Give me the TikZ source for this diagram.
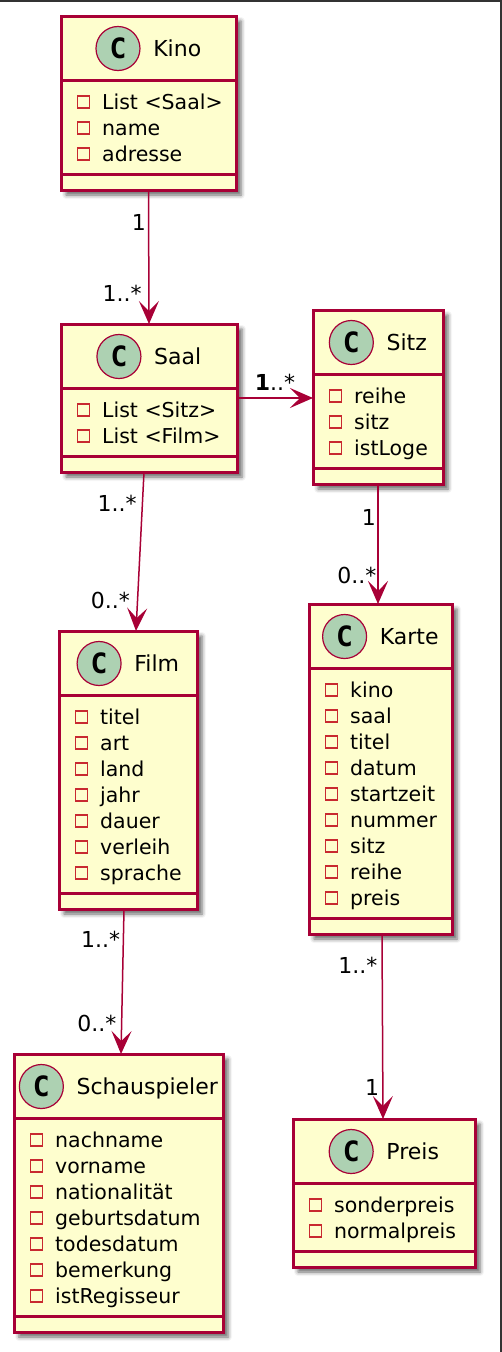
\documentclass[tikz,border=0pt]{standalone}
\usepackage{fontspec}
\setmainfont{DejaVu Sans}
\newfontfamily\iconfont{DejaVu Sans Mono}
\usetikzlibrary{arrows.meta,positioning,shadows.blur}

\definecolor{umlred}{HTML}{A80036}
\definecolor{umlfill}{HTML}{FEFECE}
\definecolor{iconfill}{HTML}{ADD1B2}
\definecolor{privred}{HTML}{C82930}
\definecolor{framegray}{HTML}{333333}

\tikzset{
  classbox/.style={draw=umlred, fill=umlfill, line width=3pt, inner sep=0pt, outer sep=0pt,
    blur shadow={shadow xshift=5pt, shadow yshift=-5pt, shadow blur radius=4pt, shadow opacity=60}},
  classsep/.style={draw=umlred, line width=3pt},
  classtitle/.style={inner sep=0pt, text height=16pt, text depth=0pt, font=\fontsize{22}{26}\selectfont},
  classicon/.style={circle, draw=umlred, fill=iconfill, line width=1.2pt, minimum size=44pt,
    inner sep=0pt, font=\iconfont\bfseries\fontsize{28}{30}\selectfont},
  fieldicon/.style={draw=privred, line width=1.3pt, minimum size=12pt, inner sep=0pt},
  fieldtext/.style={anchor=west, inner sep=0pt, text height=15pt, text depth=0pt,
    font=\fontsize{20.5}{26}\selectfont},
  mult/.style={inner sep=0pt, text height=16pt, text depth=0pt, font=\fontsize{22}{26}\selectfont},
  assoc/.style={draw=umlred, line width=1.5pt, -{Stealth[length=23pt,width=20pt,inset=10pt]}},
}

% #1 name, #2 left, #3 top, #4 width, #5 title, #6 fields
\newcommand{\umlclass}[6]{%
  \foreach \f [count=\i] in {#6}{\xdef\nfields{\i}}%
  \pgfmathsetmacro\classh{96+26*\nfields}%
  \node[classbox, minimum width=#4pt, minimum height=\classh pt, anchor=north west] (#1) at (#2,#3) {};
  \draw[classsep] (#2,#3+64.5) -- ++(#4,0);
  \draw[classsep] (#2,#3+80+26*\nfields) -- ++(#4,0);
  \node[classtitle] (#1-title) at (#2+#4/2+28.75,#3+32.5) {#5};
  \node[classicon, left=12.5pt of #1-title] (#1-icon) {C};
  \foreach \f [count=\i] in {#6}{
    \node[fieldicon] at (#2+22.5,#3+60+26*\i) {};
    \node[fieldtext] at (#2+41,#3+60+26*\i) {\f};
  }
}

\begin{document}
\begin{tikzpicture}[x=1pt,y=-1pt]
  \useasboundingbox (0,0) rectangle (502,1352);
  \draw[framegray, line width=2pt] (0,1) -- (501,1) -- (501,1352);

  \umlclass{kino}{61}{16}{175}{Kino}{List <Saal>, name, adresse}
  \umlclass{saal}{61}{324}{176}{Saal}{List <Sitz>, List <Film>}
  \umlclass{sitz}{313}{310}{130}{Sitz}{reihe, sitz, istLoge}
  \umlclass{film}{59}{631}{138}{Film}{titel, art, land, jahr, dauer, verleih, sprache}
  \umlclass{karte}{309}{604}{143}{Karte}{kino, saal, titel, datum, startzeit, nummer, sitz, reihe, preis}
  \umlclass{schau}{14}{1054}{209}{Schauspieler}{nachname, vorname, nationalität, geburtsdatum, todesdatum, bemerkung, istRegisseur}
  \umlclass{preis}{293}{1119}{182}{Preis}{sonderpreis, normalpreis}

  \draw[assoc] (kino.south) -- (saal.north)
    node[mult, pos=0.24, anchor=east, xshift=-2pt] {1}
    node[mult, pos=0.77, anchor=east, xshift=-6.5pt] {1..*};
  \draw[assoc] (saal.east) -- (saal.east -| sitz.west)
    node[mult, pos=0.5, yshift=16pt] {\textbf{1}..*};
  \draw[assoc] ([xshift=-5pt]saal.south) -- ([xshift=8pt]film.north)
    node[mult, pos=0.195, anchor=east, xshift=-5pt] {1..*}
    node[mult, pos=0.805, anchor=east, xshift=-7pt] {0..*};
  \draw[assoc] (sitz.south) -- (sitz.south |- karte.north)
    node[mult, pos=0.275, anchor=east, xshift=-1.5pt] {1}
    node[mult, pos=0.76, anchor=east, xshift=-1pt] {0..*};
  \draw[assoc] ([xshift=1.5pt]karte.south) -- ([xshift=-1pt]preis.north)
    node[mult, pos=0.17, anchor=east, xshift=-4pt] {1..*}
    node[mult, pos=0.83, anchor=east, xshift=-3pt] {1};
  \draw[assoc] ([xshift=-4pt]film.south) -- ([xshift=2.5pt]schau.north)
    node[mult, pos=0.21, anchor=east, xshift=-2.4pt] {1..*}
    node[mult, pos=0.79, anchor=east, xshift=-4.6pt] {0..*};
\end{tikzpicture}
\end{document}
